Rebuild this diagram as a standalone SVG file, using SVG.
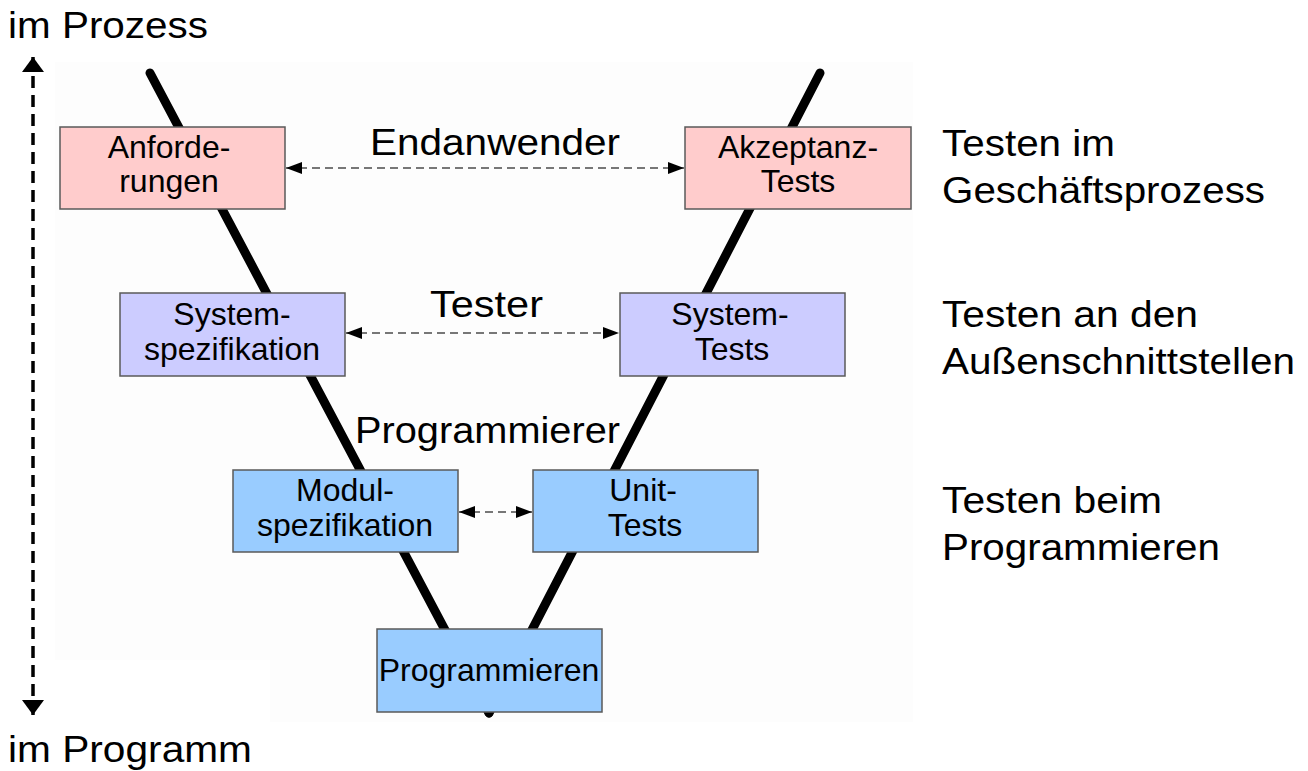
<svg xmlns="http://www.w3.org/2000/svg" width="1308" height="771" viewBox="0 0 1308 771">
  <style>
    text { font-family: "Liberation Sans", Arial, sans-serif; fill: #000; }
    .box text { font-size: 32px; text-anchor: middle; }
    .big { font-size: 37px; }
    .mid { text-anchor: middle; }
    .box rect { stroke: #5a5a5a; stroke-width: 1.5; }
    .req rect { fill: #ffcccc; }
    .sys rect { fill: #ccccff; }
    .mod rect { fill: #99ccff; }
    .vline { stroke: #000; stroke-width: 9; stroke-linecap: round; fill: none; }
    .link { stroke: #777; stroke-width: 2; stroke-dasharray: 8 5; fill: none; marker-start: url(#headStart); marker-end: url(#headEnd); }
    .axis { stroke: #000; stroke-width: 3.5; stroke-dasharray: 12 7; fill: none; marker-start: url(#axisStart); marker-end: url(#axisEnd); }
  </style>
  <defs>
    <marker id="headEnd" viewBox="0 0 16 12" refX="16" refY="6" markerWidth="16" markerHeight="12" markerUnits="userSpaceOnUse" orient="auto">
      <path d="M0,0 L16,6 L0,12 Z" fill="#000"/>
    </marker>
    <marker id="headStart" viewBox="0 0 16 12" refX="0" refY="6" markerWidth="16" markerHeight="12" markerUnits="userSpaceOnUse" orient="auto">
      <path d="M16,0 L0,6 L16,12 Z" fill="#000"/>
    </marker>
    <marker id="axisEnd" viewBox="0 0 15 22" refX="15" refY="11" markerWidth="15" markerHeight="22" markerUnits="userSpaceOnUse" orient="auto">
      <path d="M0,0 L15,11 L0,22 Z" fill="#000"/>
    </marker>
    <marker id="axisStart" viewBox="0 0 15 22" refX="0" refY="11" markerWidth="15" markerHeight="22" markerUnits="userSpaceOnUse" orient="auto">
      <path d="M15,0 L0,11 L15,22 Z" fill="#000"/>
    </marker>
  </defs>

  <rect x="0" y="0" width="1308" height="771" fill="#ffffff"/>
  <!-- faint backdrop behind the V -->
  <path d="M55,62 H913 V722 H270 V660 H55 Z" fill="#fdfdfd"/>

  <!-- the V -->
  <g id="v-shape">
    <line class="vline" x1="150" y1="73" x2="489" y2="713"/>
    <line class="vline" x1="820" y1="73" x2="489" y2="713"/>
  </g>

  <!-- connectors -->
  <g id="connectors">
    <line class="link" x1="286" y1="168" x2="684" y2="168"/>
    <line class="link" x1="346" y1="333" x2="619" y2="333"/>
    <line class="link" x1="459" y1="512" x2="532" y2="512"/>
    <line class="axis" x1="33" y1="57" x2="33" y2="715"/>
  </g>

  <g id="anforderungen" class="box req">
    <rect x="60" y="127" width="225" height="82"/>
    <text x="169" y="158">Anforde-</text>
    <text x="169" y="192">rungen</text>
  </g>
  <g id="akzeptanztests" class="box req">
    <rect x="685" y="127" width="226" height="82"/>
    <text x="798" y="158">Akzeptanz-</text>
    <text x="798" y="192">Tests</text>
  </g>
  <g id="systemspezifikation" class="box sys">
    <rect x="120" y="293" width="225" height="83"/>
    <text x="232" y="325">System-</text>
    <text x="232" y="360">spezifikation</text>
  </g>
  <g id="systemtests" class="box sys">
    <rect x="620" y="293" width="225" height="83"/>
    <text x="730" y="325">System-</text>
    <text x="732" y="360">Tests</text>
  </g>
  <g id="modulspezifikation" class="box mod">
    <rect x="233" y="470" width="225" height="82"/>
    <text x="345" y="501">Modul-</text>
    <text x="345" y="536">spezifikation</text>
  </g>
  <g id="unittests" class="box mod">
    <rect x="533" y="470" width="225" height="82"/>
    <text x="643" y="501">Unit-</text>
    <text x="645" y="536">Tests</text>
  </g>
  <g id="programmieren" class="box mod">
    <rect x="377" y="629" width="225" height="83"/>
    <text x="489" y="681">Programmieren</text>
  </g>

  <!-- role labels -->
  <g id="roles" class="big">
    <text x="370" y="155" textLength="250" lengthAdjust="spacingAndGlyphs">Endanwender</text>
    <text x="430" y="317" textLength="113" lengthAdjust="spacingAndGlyphs">Tester</text>
    <text x="355" y="443" textLength="265" lengthAdjust="spacingAndGlyphs">Programmierer</text>
  </g>

  <!-- level labels -->
  <g id="levels" class="big">
    <text x="942" y="156" textLength="173" lengthAdjust="spacingAndGlyphs">Testen im</text>
    <text x="942" y="203" textLength="323" lengthAdjust="spacingAndGlyphs">Geschäftsprozess</text>
    <text x="942" y="327" textLength="256" lengthAdjust="spacingAndGlyphs">Testen an den</text>
    <text x="942" y="374" textLength="353" lengthAdjust="spacingAndGlyphs">Außenschnittstellen</text>
    <text x="942" y="513" textLength="220" lengthAdjust="spacingAndGlyphs">Testen beim</text>
    <text x="942" y="560" textLength="278" lengthAdjust="spacingAndGlyphs">Programmieren</text>
  </g>

  <!-- axis labels -->
  <g id="axis-labels" class="big">
    <text x="8" y="38" textLength="200" lengthAdjust="spacingAndGlyphs">im Prozess</text>
    <text x="8" y="762" textLength="244" lengthAdjust="spacingAndGlyphs">im Programm</text>
  </g>
</svg>
